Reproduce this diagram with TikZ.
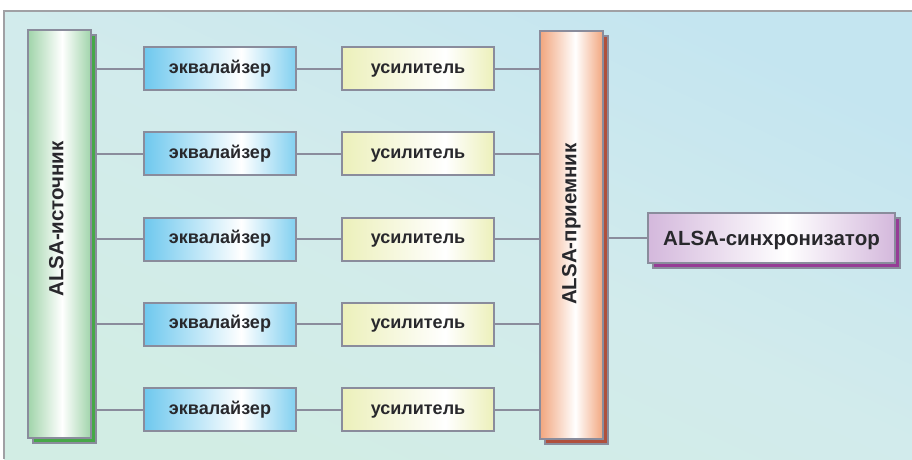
\documentclass[tikz,border=0pt]{standalone}
\usepackage{fontspec}
\setmainfont{Liberation Sans}
\usetikzlibrary{positioning}
\definecolor{frameg}{RGB}{160,160,164}
\definecolor{lineg}{RGB}{138,140,156}
\definecolor{txt}{RGB}{40,40,44}
\definecolor{bgA}{RGB}{210,237,228}
\definecolor{bgB}{RGB}{210,235,236}
\definecolor{bgC}{RGB}{196,229,240}
\definecolor{eqb}{RGB}{110,200,238}
\definecolor{eqc}{RGB}{130,208,240}
\definecolor{ampy}{RGB}{236,240,186}
\definecolor{srcg}{RGB}{160,212,170}
\definecolor{srcdk}{RGB}{70,168,72}
\definecolor{rcvo}{RGB}{242,166,126}
\definecolor{rcvdk}{RGB}{176,80,60}
\definecolor{syncp}{RGB}{212,184,220}
\definecolor{syncdk}{RGB}{150,60,150}
% TikZ maps the middle 50bp (25..75) of a 100bp shading onto the path
\pgfdeclarehorizontalshading{eqshade}{100bp}{color(0bp)=(eqb); color(25bp)=(eqb); color(57bp)=(white); color(75bp)=(eqc); color(100bp)=(eqc)}
\pgfdeclarehorizontalshading{ampshade}{100bp}{color(0bp)=(ampy); color(25bp)=(ampy); color(59bp)=(white); color(75bp)=(ampy); color(100bp)=(ampy)}
\pgfdeclarehorizontalshading{srcshade}{100bp}{color(0bp)=(srcg); color(25bp)=(srcg); color(52bp)=(white); color(75bp)=(srcg); color(100bp)=(srcg)}
\pgfdeclarehorizontalshading{rcvshade}{100bp}{color(0bp)=(rcvo); color(25bp)=(rcvo); color(53bp)=(white); color(75bp)=(rcvo); color(100bp)=(rcvo)}
\pgfdeclarehorizontalshading{syncshade}{100bp}{color(0bp)=(syncp); color(25bp)=(syncp); color(53bp)=(white); color(75bp)=(syncp); color(100bp)=(syncp)}
\pgfdeclarehorizontalshading{bgshade}{100bp}{color(0bp)=(bgA); color(25bp)=(bgA); color(50bp)=(bgB); color(75bp)=(bgC); color(100bp)=(bgC)}
\tikzset{
  x=1pt, y=-1pt,
  base/.style={draw=lineg, line width=2pt, text=txt, font=\bfseries\fontsize{18}{20}\selectfont, inner sep=0pt, text height=9pt, text depth=0pt},
  eqbox/.style={base, shading=eqshade, minimum width=152pt, minimum height=43pt},
  ampbox/.style={base, shading=ampshade, minimum width=152pt, minimum height=43pt},
  colbox/.style={draw=lineg, line width=2pt, inner sep=0pt, minimum width=63pt, minimum height=408pt},
  syncbox/.style={base, shading=syncshade, minimum width=247pt, minimum height=50pt, font=\bfseries\fontsize{20.5}{22}\selectfont, text height=14.5pt},
  shadowbox/.style={draw=lineg, line width=2pt, inner sep=0pt},
  conn/.style={draw=lineg, line width=2pt},
  vlabel/.style={text=txt, font=\bfseries\fontsize{20.5}{22}\selectfont, rotate=90, inner sep=0pt, text height=14.5pt, text depth=0pt}
}
\begin{document}
\begin{tikzpicture}
\useasboundingbox (0,0) rectangle (912,459);
% background
\shade[shading=bgshade, shading angle=65] (4,11) rectangle (912,459);
\draw[frameg, line width=2pt] (4,459) -- (4,11) -- (912,11);
% source column
\node[shadowbox, fill=srcdk, minimum width=63pt, minimum height=408pt] (srcS) at (64.5,239) {};
\node[colbox, shading=srcshade] (src) at (59.5,234) {};
\node[vlabel] (srcL) at (56,219) {ALSA-источник};
% receiver column
\node[shadowbox, fill=rcvdk, minimum width=63pt, minimum height=408pt] (rcvS) at (576.5,239.5) {};
\node[colbox, shading=rcvshade] (rcv) at (571.5,234.5) {};
\node[vlabel] (rcvL) at (569,224) {ALSA-приемник};
% synchronizer
\node[shadowbox, fill=syncdk, minimum width=247pt, minimum height=50pt] (syncS) at (776.5,243) {};
\node[syncbox] (sync) at (771.5,238) {ALSA-синхронизатор};
% rows
\foreach \i/\y in {1/68.5, 2/153.75, 3/239, 4/324.25, 5/409.5} {
  \node[eqbox] (eq\i) at (220,\y) {эквалайзер};
  \node[ampbox] (amp\i) at (418,\y) {усилитель};
  \coordinate (s\i) at (srcS.east |- eq\i.west);
  \draw[conn] (s\i) -- (eq\i.west);
  \draw[conn] (eq\i.east) -- (amp\i.west);
  \draw[conn] (amp\i.east) -- (rcv.west |- amp\i.east);
}
\draw[conn] (rcvS.east |- sync.west) -- (sync.west);
\end{tikzpicture}
\end{document}
